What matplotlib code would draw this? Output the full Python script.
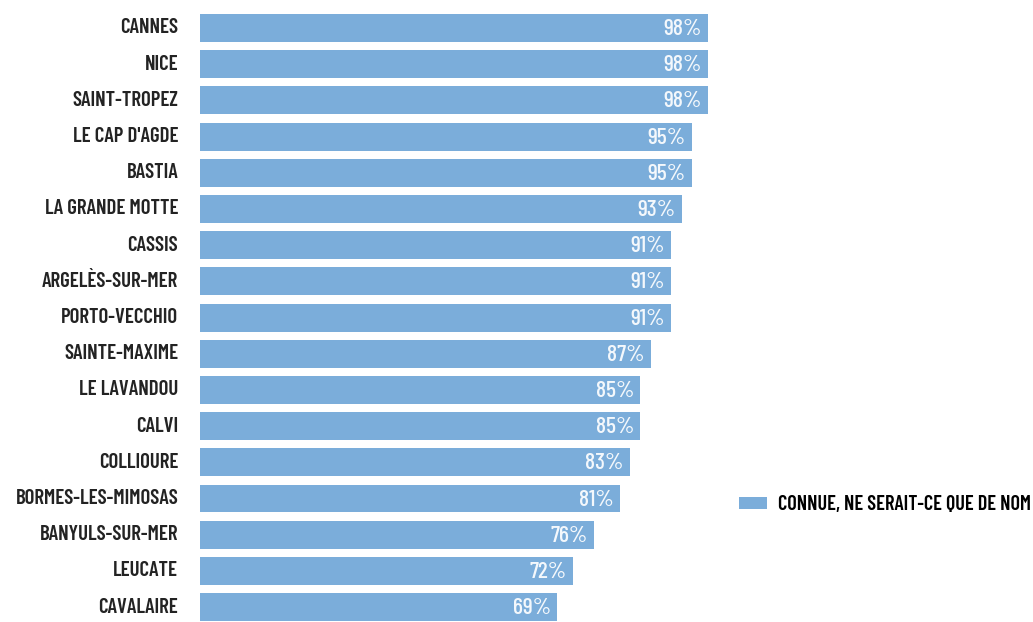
import matplotlib
matplotlib.use("Agg")
import matplotlib.pyplot as plt
from matplotlib.patches import Patch

# Notoriété des stations balnéaires
villes = ["CANNES", "NICE", "SAINT-TROPEZ", "LE CAP D'AGDE", "BASTIA",
          "LA GRANDE MOTTE", "CASSIS", "ARGELÈS-SUR-MER", "PORTO-VECCHIO",
          "SAINTE-MAXIME", "LE LAVANDOU", "CALVI", "COLLIOURE",
          "BORMES-LES-MIMOSAS", "BANYULS-SUR-MER", "LEUCATE", "CAVALAIRE"]
connue = [98, 98, 98, 95, 95, 93, 91, 91, 91, 87, 85, 85, 83, 81, 76, 72, 69]
legende = "CONNUE, NE SERAIT-CE QUE DE NOM"

bar_color = "#7badda"
font = ["Barlow Condensed", "DejaVu Sans"]

fig = plt.figure(figsize=(10.33, 6.22), dpi=100, facecolor="white")
ax = fig.add_axes([200 / 1033, 0, 518 / 1033, 1])

pos = list(range(len(villes)))
ax.barh(pos, connue, height=0.77, color=bar_color, edgecolor="none")
ax.set_xlim(0, 100)
ax.set_ylim(16.41, -0.773)
ax.set_axis_off()

for y, (name, v) in enumerate(zip(villes, connue)):
    ax.text(-4.2, y, name, ha="right", va="center", fontsize=15,
            fontweight="semibold", color="#232323", family=font)
    ax.text(v - 1.2, y + 0.03, f"{v}%", ha="right", va="center", fontsize=17,
            fontweight="medium", color="#f4f8fc", family=font)

handles = [Patch(facecolor=bar_color, edgecolor="none", label=legende)]
fig.legend(handles=handles, loc="center left", bbox_to_anchor=(721 / 1033, 1 - 505 / 622),
           frameon=False, handlelength=1.35, handleheight=0.52, handletextpad=0.55,
           prop={"family": font, "weight": "semibold", "size": 14.6})

fig.savefig("out.png", dpi=100, facecolor="white")
